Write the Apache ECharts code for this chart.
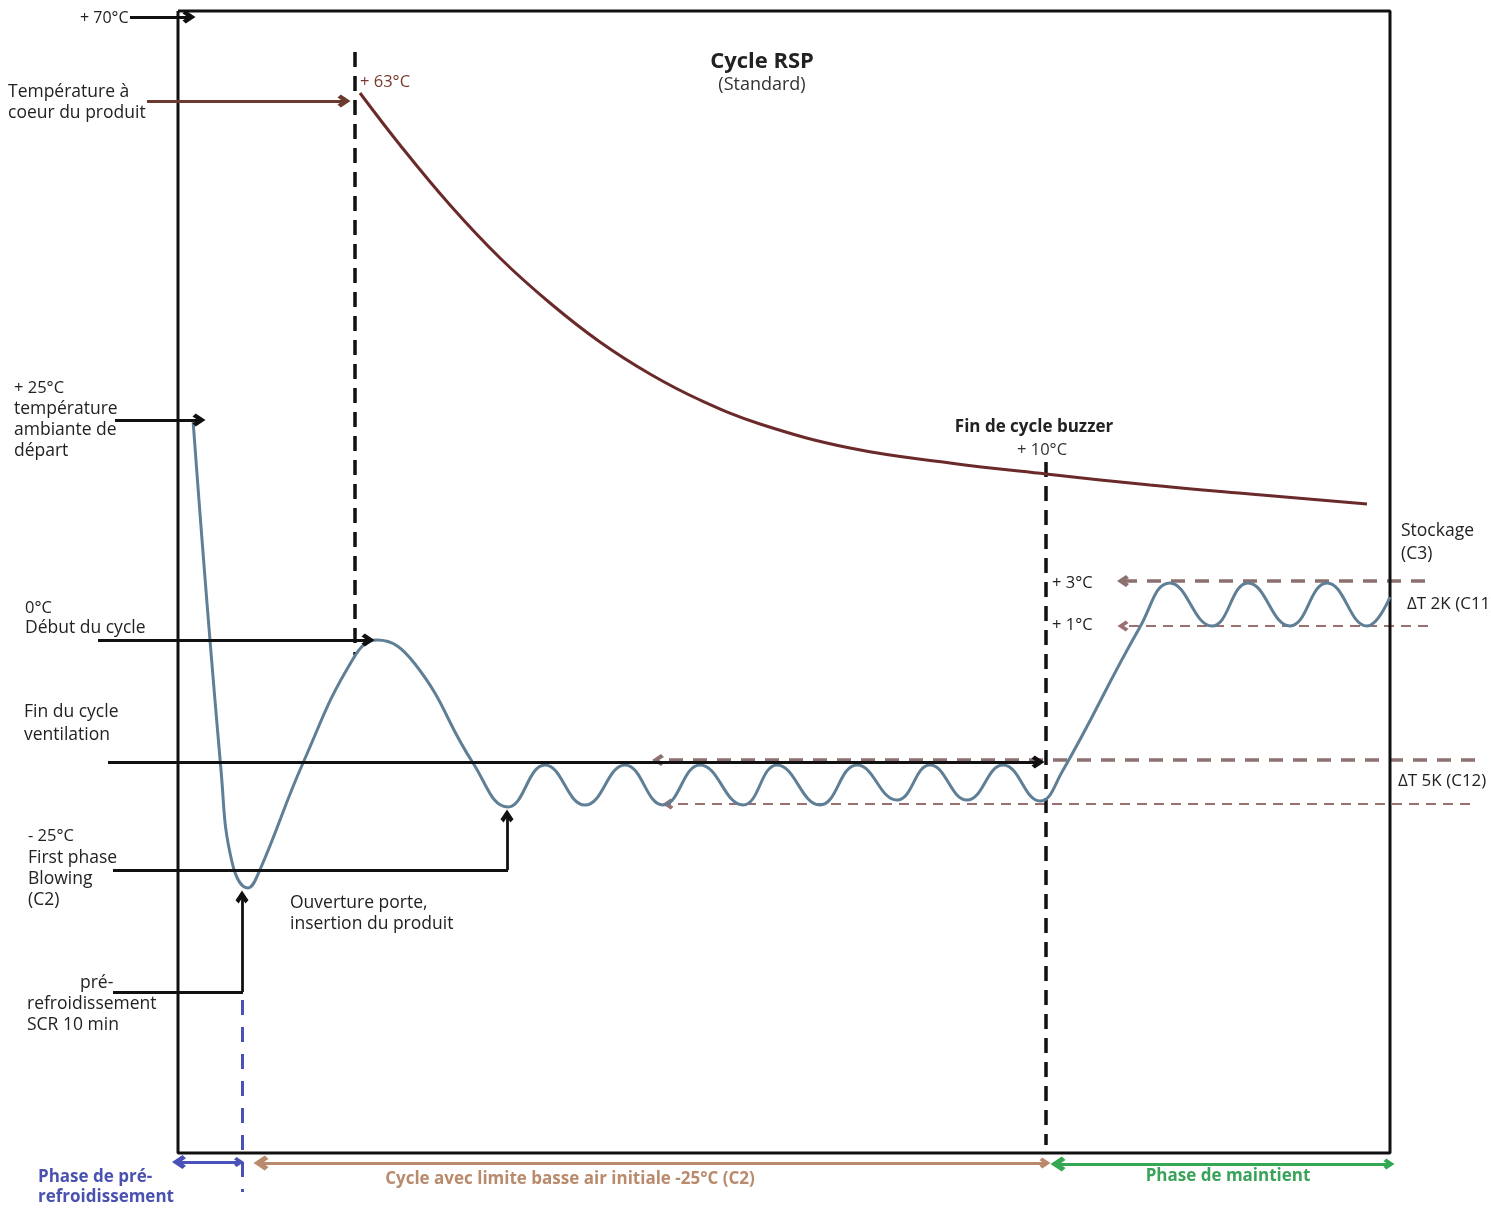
<!DOCTYPE html>
<html>
<head>
<meta charset="utf-8">
<script src="https://cdn.jsdelivr.net/npm/echarts@6/dist/echarts.min.js"></script>
<style>
html,body{margin:0;padding:0;background:#fff;}
#main{width:1491px;height:1208px;}
</style>
</head>
<body>
<div id="main"></div>
<script>
// Schematic units: x = time axis (0..1491), y = level axis (0..1208, top to bottom)
const airTemperature = [
  [193,420],[221,770],[232,862],[248,888],[259,872],
  [303,763],[353,659],[377,640],[415,664],[473,763],[508,807],
  [545,765],[585,805],[625,765],[663,805],[700,765],[743,805],[777,765],[820,805],
  [857,765],[897,800],[930,765],[967,800],[1003,765],[1040,801],
  [1062,772],[1140,627],[1170,583],[1212,626],[1248,583],[1290,626],
  [1327,583],[1367,626],[1390,597]
];
const productTemperature = [
  [360,93],[400,145],[450,205],[500,258],[550,303],[600,342],[650,374],[700,400],[760,424],
  [850,448],[950,463],[1046,474],[1150,485],[1250,494],[1367,504]
];
const frame = [[178,11],[1390,11],[1390,1153],[178,1153],[178,11]];
const blackArrows = [
  [[130,17],[189,17]],
  [[115,420],[199,420]],
  [[98,640],[368,640]],
  [[108,762],[1038,762]],
  [[507,870],[507,816]],
  [[242,992],[242,897]]
];
const blackLines = [
  [[113,870],[508,870]],
  [[113,992],[243,992]]
];
const productArrow = [[[147,101],[344,101]]];
const bandThick = [[[1475,760],[658,760]],[[1425,581],[1123,581]]];
const bandThin = [[[1470,804],[668,804]],[[1428,626],[1123,626]]];
const blackDashed = [[[355,52],[355,655]],[[1046,462],[1046,1145]]];
const blueDashed = [[[242,1000],[242,1192]]];
const phasePre = [[[179,1162],[239,1162]]];
const phaseCycle = [[[261,1163],[1045,1163]]];
const phaseHold = [[[1058,1164],[1389,1164]]];

const F = '17.5px "Open Sans"';
const FB = 'bold 17px "Liberation Sans Narrow", "Open Sans"';
const labels = [
  ['+ 70°C',80,18,'#222','16px "Open Sans"','left'],
  ['Température à',8,92,'#222',F,'left'],
  ['coeur du produit',8,113,'#222',F,'left'],
  ['+ 63°C',360,82,'#7a3a2e','16.5px "Open Sans"','left'],
  ['+ 25°C',14,388,'#222','16.5px "Open Sans"','left'],
  ['température',14,409,'#222',F,'left'],
  ['ambiante de',14,430,'#222',F,'left'],
  ['départ',14,451,'#222',F,'left'],
  ['0°C',25,608,'#222','16.5px "Open Sans"','left'],
  ['Début du cycle',25,628,'#222',F,'left'],
  ['Fin du cycle',24,712,'#222',F,'left'],
  ['ventilation',24,735,'#222',F,'left'],
  ['- 25°C',28,836,'#222','16.5px "Open Sans"','left'],
  ['First phase',28,858,'#222',F,'left'],
  ['Blowing',28,879,'#222',F,'left'],
  ['(C2)',28,900,'#222',F,'left'],
  ['Ouverture porte,',290,903,'#222',F,'left'],
  ['insertion du produit',290,924,'#222',F,'left'],
  ['pré-',80,983,'#222',F,'left'],
  ['refroidissement',27,1004,'#222',F,'left'],
  ['SCR 10 min',27,1025,'#222',F,'left'],
  ['Cycle RSP',762,62,'#222','bold 22px "Open Sans"','center'],
  ['(Standard)',762,85,'#333','18px "Open Sans"','center'],
  ['Fin de cycle buzzer',1034,427,'#222','bold 17px "Open Sans"','center'],
  ['+ 10°C',1042,450,'#333','16.5px "Open Sans"','center'],
  ['Stockage',1401,531,'#222',F,'left'],
  ['(C3)',1401,554,'#222',F,'left'],
  ['+ 3°C',1052,583,'#222','16.5px "Open Sans"','left'],
  ['+ 1°C',1052,625,'#222','16.5px "Open Sans"','left'],
  ['ΔT 2K (C11)',1407,604,'#222','17px "Open Sans"','left'],
  ['ΔT 5K (C12)',1398,781,'#222','17px "Open Sans"','left'],
  ['Phase de pré-',38,1177,'#4a52b0',FB,'left'],
  ['refroidissement',38,1197,'#4a52b0',FB,'left'],
  ['Cycle avec limite basse air initiale -25°C (C2)',570,1179,'#b98a6c',FB,'center'],
  ['Phase de maintient',1228,1176,'#3aa35a',FB,'center']
];

const CHEVRON = 'path://M5,0 L10,6 L7.6,8 L5,4.8 L2.4,8 L0,6 Z';

function linesSeries(data, color, width, type, symbol, z, size){
  return {
    type:'lines', coordinateSystem:'cartesian2d', polyline:false, z:z||3,
    symbol:symbol, symbolSize:size||12,
    lineStyle:{color:color, width:width, type:type, opacity:1},
    silent:true,
    data:data.map(c=>({coords:c}))
  };
}

const chart = echarts.init(document.getElementById('main'), null, {renderer:'canvas'});
chart.setOption({
  animation:false,
  backgroundColor:'#ffffff',
  grid:{left:0,right:0,top:0,bottom:0},
  xAxis:{type:'value',min:0,max:1491,show:false},
  yAxis:{type:'value',min:0,max:1208,inverse:true,show:false},
  series:[
    {type:'line',data:frame,showSymbol:false,lineStyle:{color:'#111',width:3},z:2,silent:true},
    linesSeries(bandThick,'#8c6f6f',3.5,[14,10],['none',CHEVRON],2,[16,12]),
    linesSeries(bandThin,'#9a7070',2,[10,7],['none',CHEVRON],2,[14,11]),
    {type:'line',data:productTemperature,smooth:0.4,showSymbol:false,lineStyle:{color:'#6b2a2a',width:3},z:4,silent:true},
    {type:'line',data:airTemperature,smooth:0.45,showSymbol:false,lineStyle:{color:'#5f7f96',width:3},z:4,silent:true},
    linesSeries(blackDashed,'#111',3.5,[15,9],['none','none'],3),
    linesSeries(blueDashed,'#4a52b8',3,[15,12],['none','none'],3),
    linesSeries(blackLines,'#111',2.8,'solid',['none','none'],5),
    linesSeries(blackArrows,'#111',2.8,'solid',['none',CHEVRON],5,[17,13]),
    linesSeries(productArrow,'#6b3a2e',3,'solid',['none',CHEVRON],5,[17,13]),
    linesSeries(phasePre,'#4a52b8',3,'solid',[CHEVRON,CHEVRON],5,[14,10]),
    linesSeries(phaseCycle,'#b98a6c',3,'solid',[CHEVRON,CHEVRON],5,[15,11]),
    linesSeries(phaseHold,'#34a853',3,'solid',[CHEVRON,CHEVRON],5,[15,11])
  ],
  graphic:labels.map(l=>({
    type:'text', x:l[1], y:l[2], z:10, silent:true,
    style:{text:l[0], fill:l[3], font:l[4], align:l[5], verticalAlign:'middle', textAlign:l[5], textVerticalAlign:'middle'}
  }))
});
</script>
</body>
</html>
